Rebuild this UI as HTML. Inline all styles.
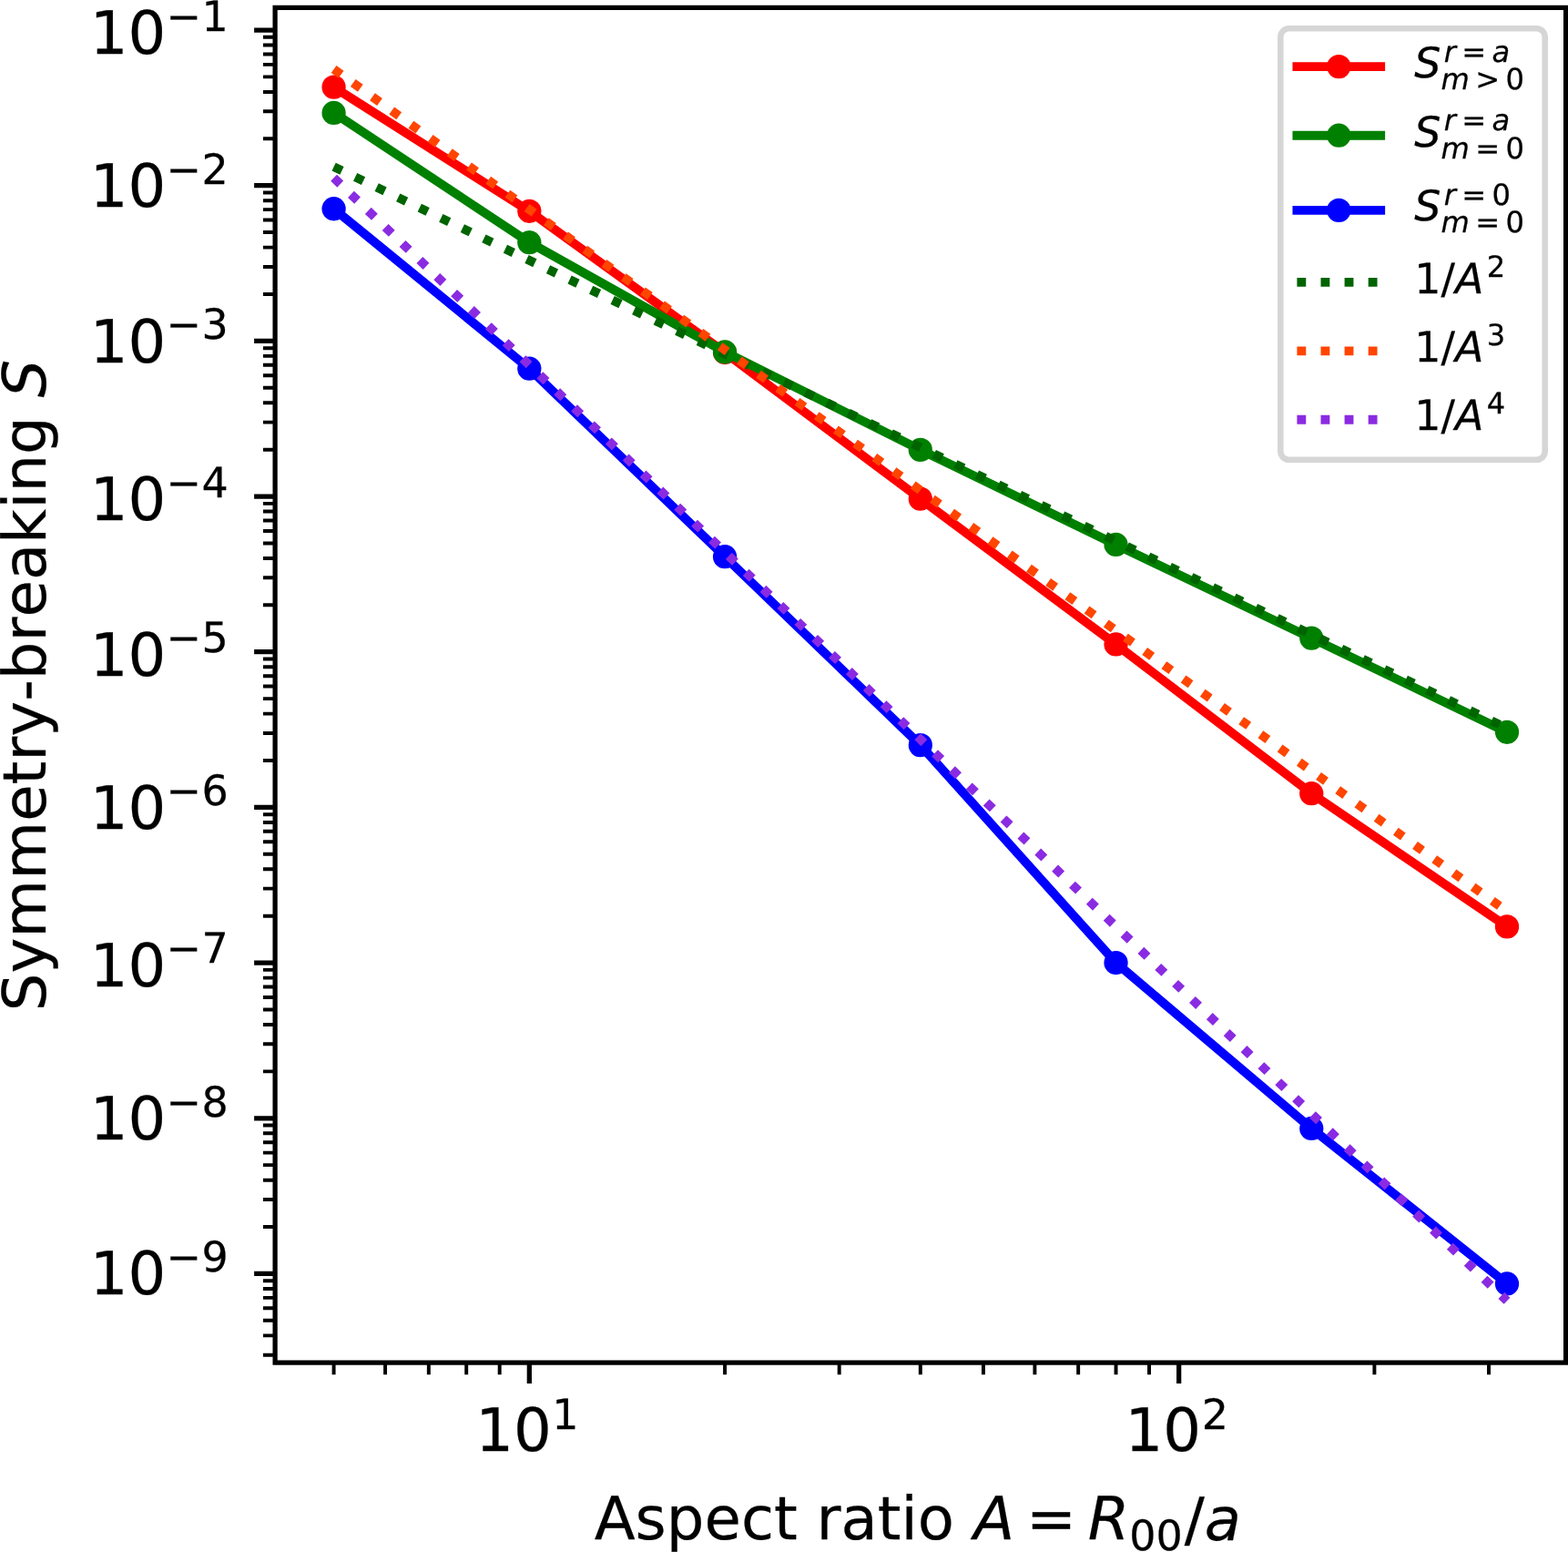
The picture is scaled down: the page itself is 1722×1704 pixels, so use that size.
<!DOCTYPE html>
<html lang="en"><head><meta charset="utf-8"><title>Symmetry-breaking S vs aspect ratio A</title>
<style>html,body{margin:0;padding:0;background:#fff}svg{display:block}text{font-family:'DejaVu Sans','Liberation Sans',sans-serif;fill:#000;stroke:#000;stroke-width:0.25px;stroke-linejoin:round;white-space:pre;font-kerning:none;font-variant-ligatures:none;text-rendering:geometricPrecision}.i{font-style:oblique}</style>
</head><body>
<svg width="1722" height="1704" viewBox="0 0 1722 1704">
<rect width="1722" height="1704" fill="#fff"/>
<g stroke="#000" fill="none">
<path stroke-width="5.25" d="M581.32 1496.1v22.98M1294.67 1496.1v22.98M302.1 1398.44h-22.98M302.1 1227.76h-22.98M302.1 1057.08h-22.98M302.1 886.4h-22.98M302.1 715.72h-22.98M302.1 545.04h-22.98M302.1 374.36h-22.98M302.1 203.68h-22.98M302.1 33h-22.98"/>
<path stroke-width="3.94" d="M366.58 1496.1v13.13M423.06 1496.1v13.13M470.82 1496.1v13.13M512.19 1496.1v13.13M548.68 1496.1v13.13M796.06 1496.1v13.13M921.67 1496.1v13.13M1010.8 1496.1v13.13M1079.93 1496.1v13.13M1136.41 1496.1v13.13M1184.17 1496.1v13.13M1225.54 1496.1v13.13M1262.03 1496.1v13.13M1509.41 1496.1v13.13M1635.02 1496.1v13.13M302.1 1487.68h-13.13M302.1 1466.36h-13.13M302.1 1449.82h-13.13M302.1 1436.31h-13.13M302.1 1424.88h-13.13M302.1 1414.98h-13.13M302.1 1406.25h-13.13M302.1 1347.06h-13.13M302.1 1317h-13.13M302.1 1295.68h-13.13M302.1 1279.14h-13.13M302.1 1265.63h-13.13M302.1 1254.2h-13.13M302.1 1244.3h-13.13M302.1 1235.57h-13.13M302.1 1176.38h-13.13M302.1 1146.32h-13.13M302.1 1125h-13.13M302.1 1108.46h-13.13M302.1 1094.95h-13.13M302.1 1083.52h-13.13M302.1 1073.62h-13.13M302.1 1064.89h-13.13M302.1 1005.7h-13.13M302.1 975.64h-13.13M302.1 954.32h-13.13M302.1 937.78h-13.13M302.1 924.27h-13.13M302.1 912.84h-13.13M302.1 902.94h-13.13M302.1 894.21h-13.13M302.1 835.02h-13.13M302.1 804.96h-13.13M302.1 783.64h-13.13M302.1 767.1h-13.13M302.1 753.59h-13.13M302.1 742.16h-13.13M302.1 732.26h-13.13M302.1 723.53h-13.13M302.1 664.34h-13.13M302.1 634.28h-13.13M302.1 612.96h-13.13M302.1 596.42h-13.13M302.1 582.91h-13.13M302.1 571.48h-13.13M302.1 561.58h-13.13M302.1 552.85h-13.13M302.1 493.66h-13.13M302.1 463.6h-13.13M302.1 442.28h-13.13M302.1 425.74h-13.13M302.1 412.23h-13.13M302.1 400.8h-13.13M302.1 390.9h-13.13M302.1 382.17h-13.13M302.1 322.98h-13.13M302.1 292.92h-13.13M302.1 271.6h-13.13M302.1 255.06h-13.13M302.1 241.55h-13.13M302.1 230.12h-13.13M302.1 220.22h-13.13M302.1 211.49h-13.13M302.1 152.3h-13.13M302.1 122.24h-13.13M302.1 100.92h-13.13M302.1 84.38h-13.13M302.1 70.87h-13.13M302.1 59.44h-13.13M302.1 49.54h-13.13M302.1 40.81h-13.13"/>
</g>
<g fill="none" stroke-width="9.85">
<polyline stroke="#ff0000" stroke-linejoin="round" stroke-linecap="square" points="366.58,95.65 581.32,231.84 796.06,387 1010.8,547.65 1225.54,707.47 1440.28,871.2 1655.02,1017.38"/>
<g fill="#ff0000" stroke="none"><circle cx="366.58" cy="95.65" r="13.13"/><circle cx="581.32" cy="231.84" r="13.13"/><circle cx="796.06" cy="387" r="13.13"/><circle cx="1010.8" cy="547.65" r="13.13"/><circle cx="1225.54" cy="707.47" r="13.13"/><circle cx="1440.28" cy="871.2" r="13.13"/><circle cx="1655.02" cy="1017.38" r="13.13"/></g>
<polyline stroke="#008000" stroke-linejoin="round" stroke-linecap="square" points="366.58,123.97 581.32,266.17 796.06,386.44 1010.8,493.89 1225.54,597.96 1440.28,700.62 1655.02,803.84"/>
<g fill="#008000" stroke="none"><circle cx="366.58" cy="123.97" r="13.13"/><circle cx="581.32" cy="266.17" r="13.13"/><circle cx="796.06" cy="386.44" r="13.13"/><circle cx="1010.8" cy="493.89" r="13.13"/><circle cx="1225.54" cy="597.96" r="13.13"/><circle cx="1440.28" cy="700.62" r="13.13"/><circle cx="1655.02" cy="803.84" r="13.13"/></g>
<polyline stroke="#0000ff" stroke-linejoin="round" stroke-linecap="square" points="366.58,229.25 581.32,404.74 796.06,611.18 1010.8,818.12 1225.54,1057.06 1440.28,1238.91 1655.02,1409.44"/>
<g fill="#0000ff" stroke="none"><circle cx="366.58" cy="229.25" r="13.13"/><circle cx="581.32" cy="404.74" r="13.13"/><circle cx="796.06" cy="611.18" r="13.13"/><circle cx="1010.8" cy="818.12" r="13.13"/><circle cx="1225.54" cy="1057.06" r="13.13"/><circle cx="1440.28" cy="1238.91" r="13.13"/><circle cx="1655.02" cy="1409.44" r="13.13"/></g>
<path stroke="#006400" stroke-dasharray="9.85 16.25" d="M366.58 183.07L1655.02 799.5"/>
<path stroke="#ff4500" stroke-dasharray="9.85 16.25" d="M366.58 75.9L1655.02 1000.56"/>
<path stroke="#8a2be2" stroke-dasharray="9.85 16.25" d="M366.58 195.3L1655.02 1428.2"/>
</g>
<rect x="302.1" y="8.4" width="1417.5" height="1487.7" fill="none" stroke="#000" stroke-width="5.25" stroke-linejoin="miter"/>
<rect x="1406.3" y="31.3" width="290.4" height="473.5" rx="9.2" ry="9.2" fill="#fff" fill-opacity="0.8" stroke="#ccc" stroke-opacity="0.8" stroke-width="6.57"/>
<g fill="none" stroke-width="9.85">
<path stroke="#ff0000" stroke-linecap="square" d="M1424.4 73.1H1516.2"/><circle cx="1470.3" cy="73.1" r="13.13" fill="#ff0000"/>
<path stroke="#008000" stroke-linecap="square" d="M1424.4 148.7H1516.2"/><circle cx="1470.3" cy="148.7" r="13.13" fill="#008000"/>
<path stroke="#0000ff" stroke-linecap="square" d="M1424.4 230.9H1516.2"/><circle cx="1470.3" cy="230.9" r="13.13" fill="#0000ff"/>
<path stroke="#006400" stroke-dasharray="9.85 16.25" d="M1424.4 309.8H1516.2"/>
<path stroke="#ff4500" stroke-dasharray="9.85 16.25" d="M1424.4 385.4H1516.2"/>
<path stroke="#8a2be2" stroke-dasharray="9.85 16.25" d="M1424.4 460.7H1516.2"/>
</g>
<text><tspan x="98.7" y="1421.38" font-size="65.66">10</tspan><tspan x="182.6" y="1396.08" font-size="45.96">−</tspan><tspan x="221.5" y="1396.08" font-size="45.96">9</tspan></text>
<text><tspan x="98.7" y="1250.93" font-size="65.66">10</tspan><tspan x="182.6" y="1225.63" font-size="45.96">−</tspan><tspan x="221.5" y="1225.63" font-size="45.96">8</tspan></text>
<text><tspan x="98.7" y="1082.79" font-size="65.66">10</tspan><tspan x="182.6" y="1057.49" font-size="45.96">−</tspan><tspan x="221.5" y="1057.49" font-size="45.96">7</tspan></text>
<text><tspan x="98.7" y="909.54" font-size="65.66">10</tspan><tspan x="182.6" y="884.24" font-size="45.96">−</tspan><tspan x="221.5" y="884.24" font-size="45.96">6</tspan></text>
<text><tspan x="98.7" y="741.59" font-size="65.66">10</tspan><tspan x="182.6" y="716.29" font-size="45.96">−</tspan><tspan x="221.5" y="716.29" font-size="45.96">5</tspan></text>
<text><tspan x="98.7" y="570.84" font-size="65.66">10</tspan><tspan x="182.6" y="545.54" font-size="45.96">−</tspan><tspan x="221.5" y="545.54" font-size="45.96">4</tspan></text>
<text><tspan x="98.7" y="397.5" font-size="65.66">10</tspan><tspan x="182.6" y="372.19" font-size="45.96">−</tspan><tspan x="221.5" y="372.19" font-size="45.96">3</tspan></text>
<text><tspan x="98.7" y="226.8" font-size="65.66">10</tspan><tspan x="182.6" y="201.5" font-size="45.96">−</tspan><tspan x="221.5" y="201.5" font-size="45.96">2</tspan></text>
<text><tspan x="98.7" y="59" font-size="65.66">10</tspan><tspan x="182.6" y="33.7" font-size="45.96">−</tspan><tspan x="221.5" y="33.7" font-size="45.96">1</tspan></text>
<text><tspan x="522.16" y="1593.45" font-size="65.66">10</tspan><tspan x="606.26" y="1569.1" font-size="45.96">1</tspan></text>
<text><tspan x="1235.51" y="1593.45" font-size="65.66">10</tspan><tspan x="1319.86" y="1569.1" font-size="45.96">2</tspan></text>
<text><tspan x="652.7" y="1690.2" font-size="65.66">Aspect ratio </tspan><tspan x="1069.36" y="1690.2" font-size="65.66" class="i">A</tspan><tspan x="1127.03" y="1690.2" font-size="65.66">=</tspan><tspan x="1194.81" y="1690.2" font-size="65.66" class="i">R</tspan><tspan x="1240.3" y="1701.5" font-size="45.96">00</tspan><tspan x="1300.76" y="1690.5" font-size="65.66">/</tspan><tspan x="1322.87" y="1690.5" font-size="65.66" class="i">a</tspan></text>
<text transform="rotate(-90 50 1110.3)"><tspan x="50" y="1110.3" font-size="65.66">Symmetry-breaking </tspan><tspan x="723.9" y="1110.3" font-size="65.66" class="i">S</tspan></text>
<text><tspan x="1553.3" y="85.3" font-size="45.96" class="i">S</tspan><tspan x="1585.81" y="67.7" font-size="32.17" class="i">r</tspan><tspan x="1605.32" y="67.7" font-size="32.17">=</tspan><tspan x="1638.58" y="67.7" font-size="32.17" class="i">a</tspan><tspan x="1582.5" y="97.9" font-size="32.17" class="i">m</tspan><tspan x="1620.14" y="97.9" font-size="32.17">&gt;</tspan><tspan x="1653.39" y="97.9" font-size="32.17">0</tspan></text>
<text><tspan x="1553.3" y="161" font-size="45.96" class="i">S</tspan><tspan x="1585.81" y="143.4" font-size="32.17" class="i">r</tspan><tspan x="1605.32" y="143.4" font-size="32.17">=</tspan><tspan x="1638.58" y="143.4" font-size="32.17" class="i">a</tspan><tspan x="1582.5" y="173.6" font-size="32.17" class="i">m</tspan><tspan x="1620.14" y="173.6" font-size="32.17">=</tspan><tspan x="1653.39" y="173.6" font-size="32.17">0</tspan></text>
<text><tspan x="1553.3" y="242.4" font-size="45.96" class="i">S</tspan><tspan x="1585.81" y="224.8" font-size="32.17" class="i">r</tspan><tspan x="1605.32" y="224.8" font-size="32.17">=</tspan><tspan x="1638.58" y="224.8" font-size="32.17">0</tspan><tspan x="1582.5" y="255" font-size="32.17" class="i">m</tspan><tspan x="1620.14" y="255" font-size="32.17">=</tspan><tspan x="1653.39" y="255" font-size="32.17">0</tspan></text>
<text><tspan x="1553.3" y="321.5" font-size="45.96">1/</tspan><tspan x="1598.06" y="321.5" font-size="45.96" class="i">A</tspan><tspan x="1632.76" y="303.9" font-size="32.17">2</tspan></text>
<text><tspan x="1553.3" y="397" font-size="45.96">1/</tspan><tspan x="1598.06" y="397" font-size="45.96" class="i">A</tspan><tspan x="1632.76" y="379.4" font-size="32.17">3</tspan></text>
<text><tspan x="1553.3" y="471.9" font-size="45.96">1/</tspan><tspan x="1598.06" y="471.9" font-size="45.96" class="i">A</tspan><tspan x="1632.76" y="454.3" font-size="32.17">4</tspan></text>
</svg>
</body></html>
